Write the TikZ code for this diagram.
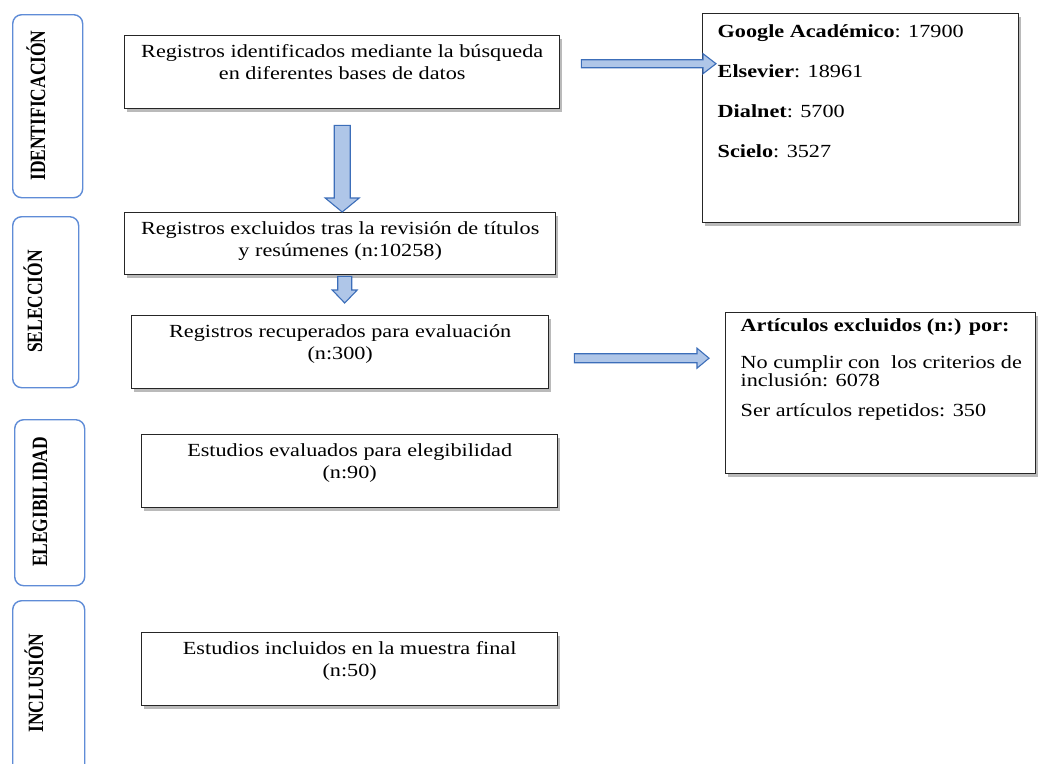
\documentclass[tikz,border=0pt]{standalone}
\usepackage{fontspec}
\setmainfont{Liberation Serif}[FakeStretch=1.2]
\newfontfamily\lblfont{Liberation Serif}[FakeStretch=0.8]
\usetikzlibrary{shadows,calc}
\definecolor{lblblue}{RGB}{95,140,215}
\definecolor{arrfill}{RGB}{175,198,232}
\definecolor{arrline}{RGB}{60,110,185}
\newcommand\boxtxt[3]{\parbox[c][#2pt][t]{#1pt}{\centering\fontsize{18.5}{22}\selectfont\rule{0pt}{22pt}#3}}
\newcommand\harrow[5]{\draw[barrow] let \p1=(#1), \p2=(#2) in
  (\x1,\y1+#3pt) -- (\x2-#5pt,\y1+#3pt) -- (\x2-#5pt,\y1+#4pt) -- (\x2,\y1) -- (\x2-#5pt,\y1-#4pt) -- (\x2-#5pt,\y1-#3pt) -- (\x1,\y1-#3pt) -- cycle;}
\newcommand\varrow[5]{\draw[barrow] let \p1=(#1), \p2=(#2) in
  (\x1-#3pt,\y1) -- (\x1-#3pt,\y2+#5pt) -- (\x1-#4pt,\y2+#5pt) -- (\x1,\y2) -- (\x1+#4pt,\y2+#5pt) -- (\x1+#3pt,\y2+#5pt) -- (\x1+#3pt,\y1) -- cycle;}
\begin{document}
\begin{tikzpicture}[x=1pt,y=-1pt,
  box/.style={draw=black!85, line width=1.4pt, fill=white, inner sep=0pt, anchor=north west,
    drop shadow={shadow xshift=2.5pt, shadow yshift=-3pt, opacity=0.45, fill=black!60}},
  lbl/.style={draw=lblblue, line width=1.4pt, rounded corners=9pt, fill=white, anchor=north west, inner sep=0pt},
  lbltext/.style={rotate=90, anchor=base, inner sep=0pt, font=\lblfont\bfseries\fontsize{21.8}{24}\selectfont},
  barrow/.style={draw=arrline, fill=arrfill, line width=1.1pt, line join=miter}
]
\clip (0,0) rectangle (1043,763);
\fill[white] (0,0) rectangle (1043,763);

% stage labels
\node[lbl, minimum width=70pt, minimum height=183pt] (L1) at (12,14) {};
\node[lbltext] (L1t) at (45,105.5) {IDENTIFICACIÓN};
\node[lbl, minimum width=66pt, minimum height=171pt] (L2) at (12,216) {};
\node[lbltext] (L2t) at (42,301.5) {SELECCIÓN};
\node[lbl, minimum width=70pt, minimum height=166pt] (L3) at (14,419) {};
\node[lbltext] (L3t) at (47,502) {ELEGIBILIDAD};
\node[lbl, minimum width=72pt, minimum height=200pt] (L4) at (12,600) {};
\node[lbltext] (L4t) at (43,683) {INCLUSIÓN};

% main boxes
\node[box] (b1) at (124,35) {\boxtxt{435}{73}{Registros identificados mediante la búsqueda\\ en diferentes bases de datos}};
\node[box] (b2) at (124,212) {\boxtxt{431}{62}{Registros excluidos tras la revisión de títulos\\ y resúmenes (n:10258)}};
\node[box] (b3) at (131,315) {\boxtxt{417}{73}{Registros recuperados para evaluación\\ (n:300)}};
\node[box] (b4) at (141,434) {\boxtxt{416}{73}{Estudios evaluados para elegibilidad\\ (n:90)}};
\node[box] (b5) at (141,632) {\boxtxt{416}{73}{Estudios incluidos en la muestra final\\ (n:50)}};

\node[box] (src) at (702,13) {\parbox[c][209pt][t]{316pt}{\raggedright\leftskip=15pt\fontsize{18.5}{40}\selectfont
  \rule{0pt}{24pt}\textbf{Google Académico}: 17900\\
  \textbf{Elsevier}: 18961\\
  \textbf{Dialnet}: 5700\\
  \textbf{Scielo}: 3527}};
\node[box] (excl) at (725,312) {\parbox[c][161pt][t]{310pt}{\raggedright\leftskip=15pt\fontsize{18.5}{18}\selectfont
  \rule{0pt}{19pt}\textbf{Artículos excluidos (n:) por:}\\[19pt]
  No cumplir con\ \ los criterios de\\
  inclusión: 6078\\[12pt]
  Ser artículos repetidos: 350}};

% arrows
\coordinate (a1s) at ($(b1.south)+(0,16)$);
\coordinate (a1e) at (a1s |- b2.north);
\varrow{a1s}{a1e}{8}{17}{14}
\coordinate (a2s) at ($(b2.south)+(4.5,1)$);
\coordinate (a2e) at ($(a2s |- b3.north)+(0,-12)$);
\varrow{a2s}{a2e}{7}{12.5}{13}
\coordinate (a3s) at ($(b1.east)+(21,-8.5)$);
\coordinate (a3e) at ($(a3s -| src.west)+(14,0)$);
\harrow{a3s}{a3e}{4}{10}{13}
\coordinate (a4s) at ($(b3.east)+(25,6)$);
\coordinate (a4e) at ($(a4s -| excl.west)+(-16,0)$);
\harrow{a4s}{a4e}{4.5}{10}{12}
\end{tikzpicture}
\end{document}
